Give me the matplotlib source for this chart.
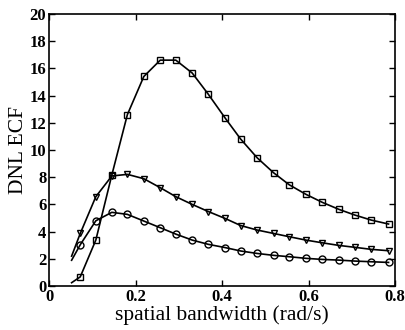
import numpy as np
import matplotlib
matplotlib.use("Agg")
import matplotlib.pyplot as plt

plt.rcParams['font.family'] = ['Liberation Serif', 'DejaVu Serif']

# marker positions (rad/s)
x_pts = [0.072, 0.108, 0.145, 0.181, 0.219, 0.257, 0.293, 0.331, 0.368, 0.407,
         0.443, 0.481, 0.519, 0.555, 0.594, 0.632, 0.670, 0.707, 0.745, 0.785]
x_start = 0.052

sq_start = 0.25
sq_vals = [0.68, 3.38, 8.16, 12.6, 15.4, 16.6, 16.6, 15.65, 14.1, 12.35,
           10.8, 9.43, 8.33, 7.45, 6.74, 6.15, 5.64, 5.22, 4.85, 4.56]

tri_start = 2.2
tri_vals = [3.87, 6.57, 8.09, 8.21, 7.89, 7.23, 6.57, 6.0, 5.48, 4.97,
            4.45, 4.12, 3.87, 3.63, 3.38, 3.18, 2.99, 2.85, 2.70, 2.60]

circ_start = 1.9
circ_vals = [3.04, 4.80, 5.42, 5.27, 4.78, 4.29, 3.82, 3.38, 3.07, 2.83,
             2.58, 2.40, 2.26, 2.16, 2.04, 1.96, 1.91, 1.84, 1.79, 1.74]

fig = plt.figure(figsize=(4.06, 3.3), dpi=100)
ax = fig.add_axes([0.121, 0.133, 0.852, 0.825])

series = [(sq_start, sq_vals, 's'), (tri_start, tri_vals, 'v'), (circ_start, circ_vals, 'o')]
for start, vals, mk in series:
    ax.plot([x_start] + x_pts, [start] + vals, color='k', lw=1.2)
    ax.plot(x_pts, vals, ls='none', marker=mk, ms=5, mfc='none', mec='k', mew=1.0)

ax.set_xlim(0, 0.8)
ax.set_ylim(0, 20)
ax.set_xticks([0, 0.2, 0.4, 0.6, 0.8])
ax.set_xticklabels(['0', '0.2', '0.4', '0.6', '0.8'])
ax.set_yticks(range(0, 21, 2))
ax.tick_params(direction='in', top=True, right=True, length=4, width=1,
               labelsize=12, pad=2)
for lab in ax.get_xticklabels() + ax.get_yticklabels():
    lab.set_fontweight('bold')
for sp in ax.spines.values():
    sp.set_linewidth(1.2)

ax.set_xlabel('spatial bandwidth (rad/s)', fontsize=15.5, labelpad=0)
ax.set_ylabel('DNL ECF', fontsize=15.5, labelpad=1)

fig.savefig('out.png', dpi=100)
